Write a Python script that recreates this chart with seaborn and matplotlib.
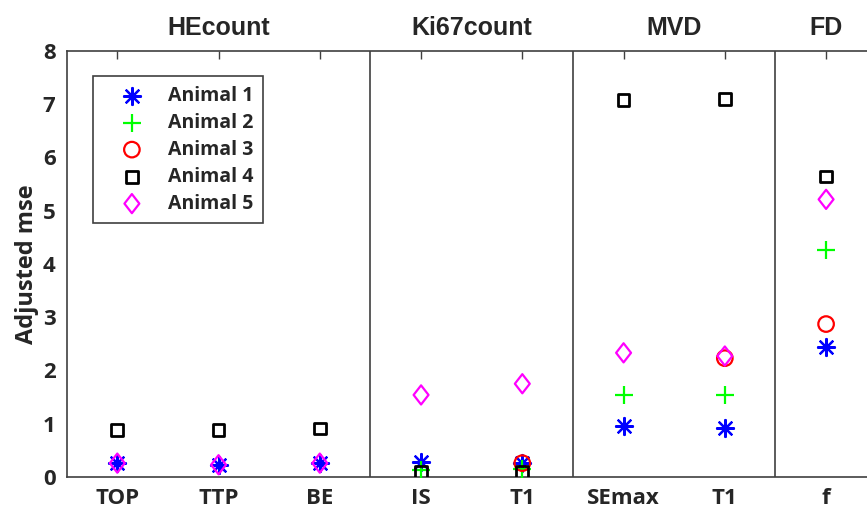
import numpy as np
import pandas as pd
import matplotlib
matplotlib.use("Agg")
import matplotlib.pyplot as plt
import matplotlib.transforms as mtransforms
from matplotlib.path import Path
import seaborn as sns

# ---- data -------------------------------------------------------------
categories = ["TOP", "TTP", "BE", "IS", "T1", "SEmax", "T1", "f"]
groups = ["HEcount", "Ki67count", "MVD", "FD"]
group_sizes = [3, 2, 2, 1]
animals = ["Animal 1", "Animal 2", "Animal 3", "Animal 4", "Animal 5"]

nan = np.nan
animal1 = [0.26, 0.23, 0.26, 0.28, 0.27, 0.96, 0.92, 2.43]
animal2 = [nan, nan, nan, 0.13, 0.15, 1.53, 1.54, 4.26]
animal3 = [nan, nan, nan, nan, 0.26, nan, 2.23, 2.87]
animal4 = [0.88, 0.88, 0.91, 0.10, 0.10, 7.07, 7.10, 5.64]
animal5 = [0.26, 0.23, 0.26, 1.54, 1.75, 2.33, 2.27, 5.21]
series = [animal1, animal2, animal3, animal4, animal5]

# ---- styling ------------------------------------------------------------
sns.set_theme(style="white")
plt.rcParams["font.family"] = ["Open Sans", "DejaVu Sans"]
plt.rcParams["font.weight"] = "bold"

colors = ["#0000FF", "#00FF00", "#FF0000", "#000000", "#FF00FF"]
diamond = Path([(0, 1), (0.78, 0), (0, -1), (-0.78, 0), (0, 1)],
               [Path.MOVETO, Path.LINETO, Path.LINETO, Path.LINETO, Path.CLOSEPOLY])
markers = [(8, 2, 0), "+", "o", "s", diamond]
sizes = [150, 150, 125, 72, 190]
widths = [1.6, 1.6, 1.6, 2.0, 1.6]
hollow = [False, False, True, True, True]

positions = np.arange(1, len(categories) + 1)
df = pd.concat(
    [pd.DataFrame({"pos": positions, "value": vals, "animal": name})
     for name, vals in zip(animals, series)],
    ignore_index=True,
)

spine_col = "#404040"

fig = plt.figure(figsize=(8.67, 5.15), dpi=100)
ax = fig.add_axes([0.0769, 0.0738, 0.9343, 0.8278])

for name, col, mk, sz, lw, hol in zip(animals, colors, markers, sizes, widths, hollow):
    sub = df[df["animal"] == name].dropna()
    kw = dict(facecolor="none", edgecolor=col) if hol else {}
    sns.scatterplot(data=sub, x="pos", y="value", marker=mk, s=sz, color=col,
                    linewidth=lw, label=name, legend=False, ax=ax, zorder=3,
                    **kw)

# group separators
bounds = np.cumsum(group_sizes)[:-1] + 0.5
for b in bounds:
    ax.axvline(b, color=spine_col, lw=1.2, zorder=2)

ax.set_xlim(0.5, len(categories) + 0.5)
ax.set_ylim(0, 8)
ax.set_xticks(positions)
ax.set_xticklabels(categories)
ax.set_yticks(np.arange(0, 9, 1))
ax.set_xlabel("")
ax.set_ylabel("Adjusted mse", fontsize=17, fontweight="bold")
ax.yaxis.set_label_coords(-0.034, 0.5)

for s in ax.spines.values():
    s.set_visible(True)
    s.set_color(spine_col)
    s.set_linewidth(1.2)

ax.tick_params(axis="both", which="major", direction="in", length=6, width=1.0,
               color=spine_col, top=True, right=True, labelsize=16)
ax.tick_params(axis="x", pad=8)
ax.tick_params(axis="y", pad=8)
for lab in ax.get_xticklabels() + ax.get_yticklabels():
    lab.set_fontweight("bold")

# group titles above the axes
trans = mtransforms.blended_transform_factory(ax.transData, ax.transAxes)
starts = np.concatenate([[0], np.cumsum(group_sizes)[:-1]])
for g, st, n in zip(groups, starts, group_sizes):
    cx = st + 1 + (n - 1) / 2
    ax.text(cx, 1.037, g, transform=trans, ha="center", va="baseline",
            fontsize=18, fontweight="bold", family=["Liberation Sans", "DejaVu Sans"],
            clip_on=False)

leg = ax.legend(loc="upper left", bbox_to_anchor=(0.0325, 0.9406),
                borderaxespad=0, frameon=True, fancybox=False, framealpha=1,
                scatterpoints=1, borderpad=0.5, handlelength=3.0,
                handletextpad=0.37, labelspacing=0.36,
                prop={"weight": "bold", "size": 14})
leg.get_frame().set_edgecolor(spine_col)
leg.get_frame().set_linewidth(1.2)

fig.savefig("out.png", dpi=100)
